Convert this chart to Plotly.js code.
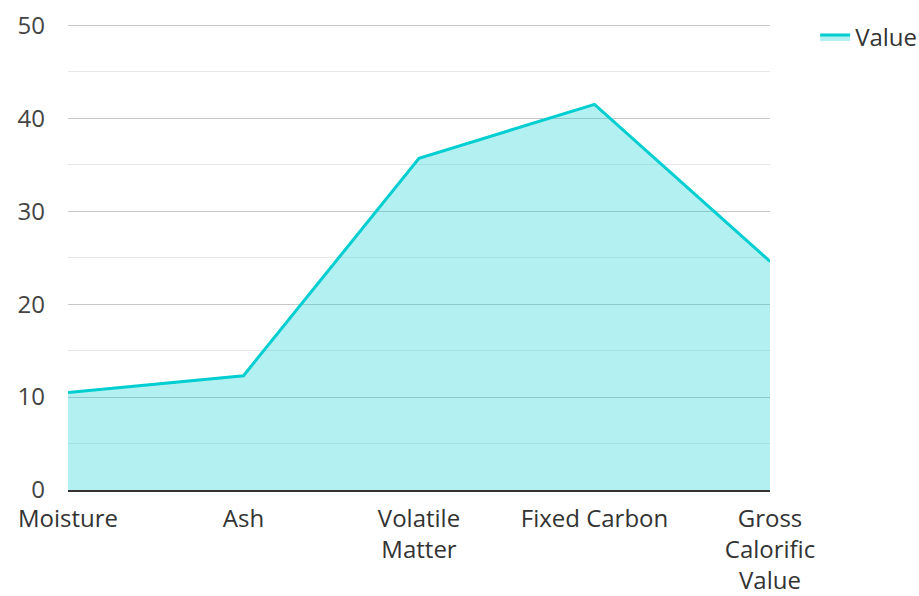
<!DOCTYPE html>
<html><head><meta charset="utf-8">
<script src="https://cdn.plot.ly/plotly-3.0.1.min.js"></script>
<style>html,body{margin:0;padding:0;background:#fff}#chart{width:919px;height:596px}</style>
</head><body><div id="chart"></div>
<script>
const categories = ["Moisture", "Ash", "Volatile<br>Matter", "Fixed Carbon", "Gross<br>Calorific<br>Value"];
const values = [10.5, 12.3, 35.7, 41.5, 24.6];
const seriesName = "Value";

const trace = {
  x: [0, 1, 2, 3, 4],
  y: values,
  name: seriesName,
  type: "scatter",
  mode: "lines",
  fill: "tozeroy",
  fillcolor: "rgba(0,206,209,0.3)",
  line: {color: "#00CED1", width: 3},
  hoverinfo: "x+y"
};

const layout = {
  width: 919, height: 596,
  margin: {l: 68, r: 149, t: 24, b: 106, autoexpand: false},
  paper_bgcolor: "#fff", plot_bgcolor: "#fff",
  font: {family: "Open Sans, sans-serif", size: 24, color: "#333"},
  showlegend: true,
  legend: {xref: "container", yref: "container", x: 0.887, y: 0.975, xanchor: "left", yanchor: "top",
           itemwidth: 30, font: {size: 24, color: "#333"}},
  xaxis: {
    range: [0, 4], tickmode: "array", tickvals: [0,1,2,3,4], ticktext: categories,
    showgrid: false, zeroline: false, showline: true, linecolor: "#333", linewidth: 2,
    ticks: "", ticklabelstandoff: 6, tickfont: {size: 24, color: "#333"}
  },
  yaxis: {
    range: [0, 50.15], dtick: 10, tick0: 0, showgrid: true, gridcolor: "#c8c8c8", gridwidth: 1,
    minor: {dtick: 5, showgrid: true, gridcolor: "#e8e8e8", gridwidth: 1},
    zeroline: false, showline: false, ticks: "", ticklabelstandoff: 22,
    tickfont: {size: 24, color: "#444"}
  }
};

Plotly.newPlot("chart", [trace], layout, {displayModeBar: false, staticPlot: true});
</script></body></html>
